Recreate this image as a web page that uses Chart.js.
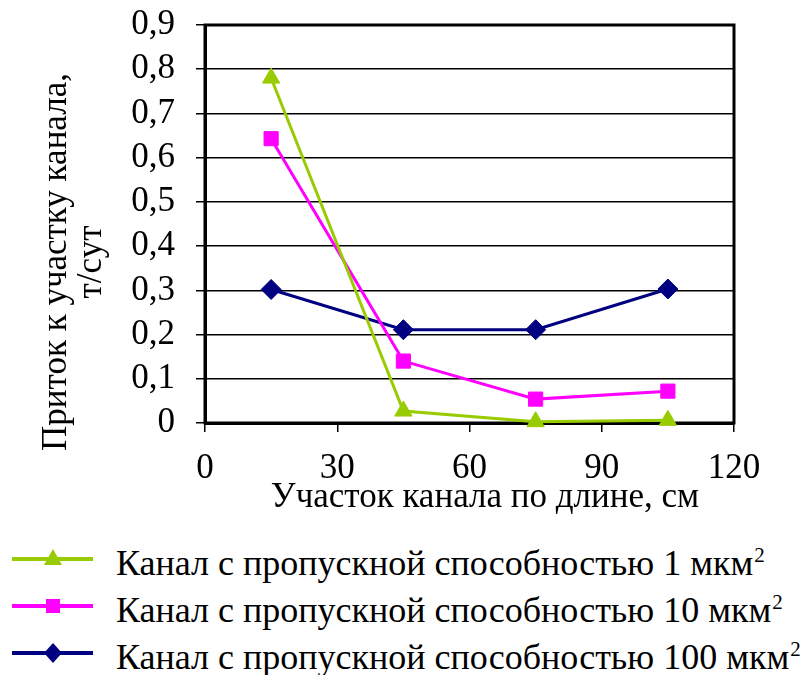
<!DOCTYPE html>
<html>
<head>
<meta charset="utf-8">
<script src="https://cdn.jsdelivr.net/npm/chart.js@4.4.1/dist/chart.umd.min.js"></script>
<style>
    body { margin: 0; background: #fff; }
    #wrap { position: relative; width: 801px; height: 675px; font-family: "Liberation Serif", "Times New Roman", serif; overflow: hidden; }
    #chartBox { position: absolute; left: 0; top: 0; width: 801px; height: 520px; }
    .row { position: absolute; left: 0; height: 46px; width: 801px; }
    .row svg { position: absolute; left: 0; top: 0; }
    .row span { position: absolute; left: 116px; top: 7px; font-size: 36px; line-height: 40px; color: #000; white-space: nowrap; font-family: "Liberation Serif", serif; }
    .row sup { font-size: 21px; position: relative; top: -13px; vertical-align: baseline; margin-left: 1px; }
</style>
</head>
<body>
<div id="wrap">
    <div id="chartBox"><canvas id="chartCanvas"></canvas></div>
    <div id="legend"></div>
</div>
<script>
const xValues = [15, 45, 75, 105];
const perm1 = [0.78, 0.027, 0.003, 0.006];
const perm10 = [0.643, 0.14, 0.054, 0.072];
const perm100 = [0.302, 0.211, 0.211, 0.303];
const seriesNames = ["Канал с пропускной способностью 1 мкм", "Канал с пропускной способностью 10 мкм", "Канал с пропускной способностью 100 мкм"];
const xTicks = [0, 30, 60, 90, 120];
const yTicks = [0, 0.1, 0.2, 0.3, 0.4, 0.5, 0.6, 0.7, 0.8, 0.9];
const yTitle = ["Приток к участку канала,", "т/сут"];
const xTitle = "Участок канала по длине, см";

const colors = ["#99CC00", "#FF00FF", "#000080"];
const shapes = ["triangle", "rect", "rectRot"];
const radii = [10, 10, 10];
const FAMILY = "'Liberation Serif', serif";

function pts(ys) {
    return xValues.map((x, i) => ({ x: x, y: ys[i] }));
}

// plot frame + axis titles (placed as in the original figure, not centred on the plot)
const frame = {
    id: "frame",
    beforeDatasetsDraw(chart) {
        const a = chart.chartArea, ctx = chart.ctx;
        ctx.save();
        ctx.strokeStyle = "#000";
        ctx.lineWidth = 3;
        ctx.strokeRect(a.left, a.top, a.right - a.left, a.bottom - a.top);
        ctx.restore();
    },
    afterDraw(chart) {
        const ctx = chart.ctx;
        ctx.save();
        ctx.fillStyle = "#000";
        ctx.font = "35px " + FAMILY;
        ctx.textAlign = "center";
        ctx.textBaseline = "middle";
        ctx.fillText(xTitle, 485, 498);
        ctx.textBaseline = "alphabetic";
        ctx.translate(0, 262);
        ctx.rotate(-Math.PI / 2);
        ctx.fillText(yTitle[0], 0, 66);
        ctx.fillText(yTitle[1], 0, 101);
        ctx.restore();
    }
};

function draw() {
    const datasets = [perm1, perm10, perm100].map((d, i) => ({
        label: seriesNames[i],
        data: pts(d),
        borderColor: colors[i],
        backgroundColor: colors[i],
        borderWidth: 3,
        pointStyle: shapes[i],
        pointRadius: radii[i],
        pointBorderWidth: 1,
        tension: 0,
        clip: false
    }));

    new Chart(document.getElementById("chartCanvas"), {
        type: "line",
        data: { datasets: datasets },
        options: {
            responsive: true,
            maintainAspectRatio: false,
            animation: false,
            layout: { padding: { top: 25, right: 67, bottom: 0, left: 0 } },
            plugins: { legend: { display: false }, tooltip: { enabled: false } },
            scales: {
                x: {
                    type: "linear",
                    min: 0,
                    max: 120,
                    afterBuildTicks: s => { s.ticks = xTicks.map(v => ({ value: v })); },
                    afterFit: s => { s.height = 97; s.paddingLeft = 0; s.paddingRight = 0; },
                    ticks: { color: "#000", font: { family: FAMILY, size: 35 }, padding: 16, maxRotation: 0, autoSkip: false },
                    grid: { drawOnChartArea: false, drawTicks: true, tickLength: 9, color: "#000", lineWidth: 1.5 },
                    border: { display: true, color: "#000", width: 3 }
                },
                y: {
                    min: 0,
                    max: 0.9,
                    afterBuildTicks: s => { s.ticks = yTicks.map(v => ({ value: v })); },
                    afterFit: s => { s.width = 205; s.paddingTop = 0; s.paddingBottom = 0; },
                    ticks: {
                        color: "#000",
                        font: { family: FAMILY, size: 35 },
                        padding: 21,
                        autoSkip: false,
                        callback: v => v === 0 ? "0" : v.toFixed(1).replace(".", ",")
                    },
                    grid: { color: "#000", lineWidth: 1.5, tickLength: 9 },
                    border: { display: true, color: "#000", width: 3 }
                }
            }
        },
        plugins: [frame]
    });
}

// legend below the chart, with superscript units
const legend = document.getElementById("legend");
const rowCenters = [559, 606, 653];
seriesNames.forEach((name, i) => {
    const row = document.createElement("div");
    row.className = "row";
    row.style.top = (rowCenters[i] - 23) + "px";
    let marker;
    if (i === 0) marker = `<polygon points="53,13 62,29 44,29" fill="${colors[i]}"/>`;
    else if (i === 1) marker = `<rect x="46" y="16" width="14" height="14" fill="${colors[i]}"/>`;
    else marker = `<polygon points="53,13 62,23 53,33 44,23" fill="${colors[i]}"/>`;
    row.innerHTML = `<svg width="100" height="46"><line x1="12" y1="23" x2="93" y2="23" stroke="${colors[i]}" stroke-width="4"/>${marker}</svg>` +
        `<span>${name}<sup>2</sup></span>`;
    legend.appendChild(row);
});

if (document.fonts && document.fonts.load) {
    document.fonts.load("35px 'Liberation Serif'").then(draw, draw);
} else {
    draw();
}
</script>
</body>
</html>
